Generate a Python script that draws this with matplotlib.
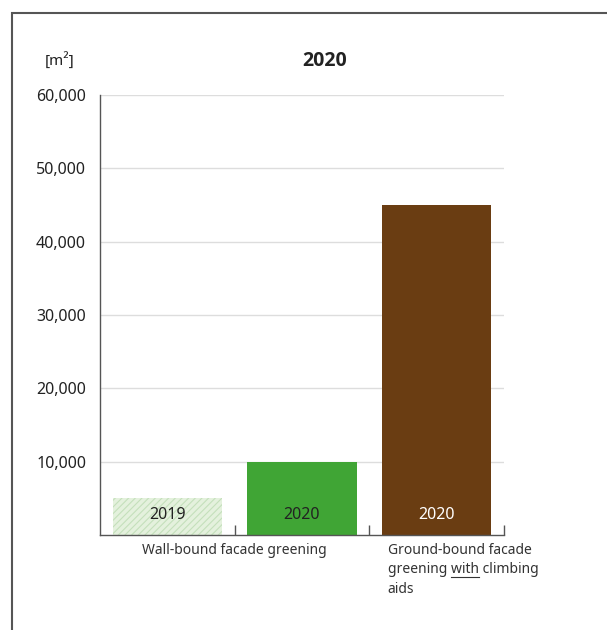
import matplotlib.pyplot as plt
from matplotlib.patches import Rectangle
from matplotlib.lines import Line2D

# data
bar_years = ['2019', '2020', '2020']
values = [5000, 10000, 45000]
colors = ['#e4f1dd', '#40a535', '#6a3d12']
year_colors = ['#222222', '#222222', '#ffffff']
yticks = [10000, 20000, 30000, 40000, 50000, 60000]
group_labels = ['Wall-bound facade greening', 'Ground-bound facade\ngreening with climbing\naids']

plt.rcParams['font.family'] = ['Noto Sans', 'DejaVu Sans']
plt.rcParams['hatch.linewidth'] = 0.8

fig = plt.figure(figsize=(6.07, 6.3), dpi=100)
ax = fig.add_axes([100 / 607, 95 / 630, 404 / 607, 440 / 630])

# frame around figure (partly cut off)
fig.patches.append(Rectangle((12 / 607, -0.1), 1.0, 1 - 13 / 630 + 0.1, transform=fig.transFigure,
                             fill=False, edgecolor='#555555', linewidth=1.5))

x = range(len(values))
bars = ax.bar(x, values, width=0.81, color=colors, zorder=2, linewidth=0)
bars[0].set_hatch('/////')
bars[0].set_edgecolor('#c4e0bb')

for i, (yr, c) in enumerate(zip(bar_years, year_colors)):
    ax.text(i, 2700, yr, ha='center', va='center', fontsize=11.5, color=c, zorder=3)

ax.set_xlim(-0.5, 2.5)
ax.set_ylim(0, 60000)
ax.set_yticks(yticks)
ax.set_yticklabels([f'{v:,}' for v in yticks], fontsize=11.5, color='#222222')
ax.tick_params(axis='y', length=0, pad=10)
ax.set_xticks([0.5, 1.5, 2.5])
ax.set_xticklabels([])
ax.tick_params(axis='x', direction='in', length=7, width=1, color='#555555')
ax.yaxis.grid(True, color='#dddddd', linewidth=1, zorder=0)

for s in ['top', 'right']:
    ax.spines[s].set_visible(False)
for s in ['left', 'bottom']:
    ax.spines[s].set_color('#555555')
    ax.spines[s].set_linewidth(1.0)

# group labels
ax.text(0.5, -0.018, group_labels[0], transform=ax.get_xaxis_transform(), ha='center', va='top',
        fontsize=10, color='#333333')
t2 = ax.text(1.635, -0.018, group_labels[1], transform=ax.get_xaxis_transform(), ha='left', va='top',
             fontsize=10, color='#333333', linespacing=1.4)

# underline "with"
fig.canvas.draw()
r = fig.canvas.get_renderer()
bb = t2.get_window_extent(r)
probe = fig.text(0, 0, 'greening ', fontsize=10)
w0 = probe.get_window_extent(r).width
probe.set_text('with')
w1 = probe.get_window_extent(r).width
probe.remove()
line_h = bb.height / 3
y_ul = bb.y1 - 2 * line_h + 2
fig.add_artist(Line2D([(bb.x0 + w0) / 607, (bb.x0 + w0 + w1) / 607], [y_ul / 630, y_ul / 630],
                      color='#333333', linewidth=0.8))

fig.text(60 / 607, 1 - 61 / 630, '[m²]', ha='center', va='center', fontsize=11, color='#222222')
fig.text(325 / 607, 1 - 61 / 630, '2020', ha='center', va='center', fontsize=14, fontweight='bold',
         family=['Open Sans', 'DejaVu Sans'], color='#222222')

fig.savefig('out.png', dpi=100)
